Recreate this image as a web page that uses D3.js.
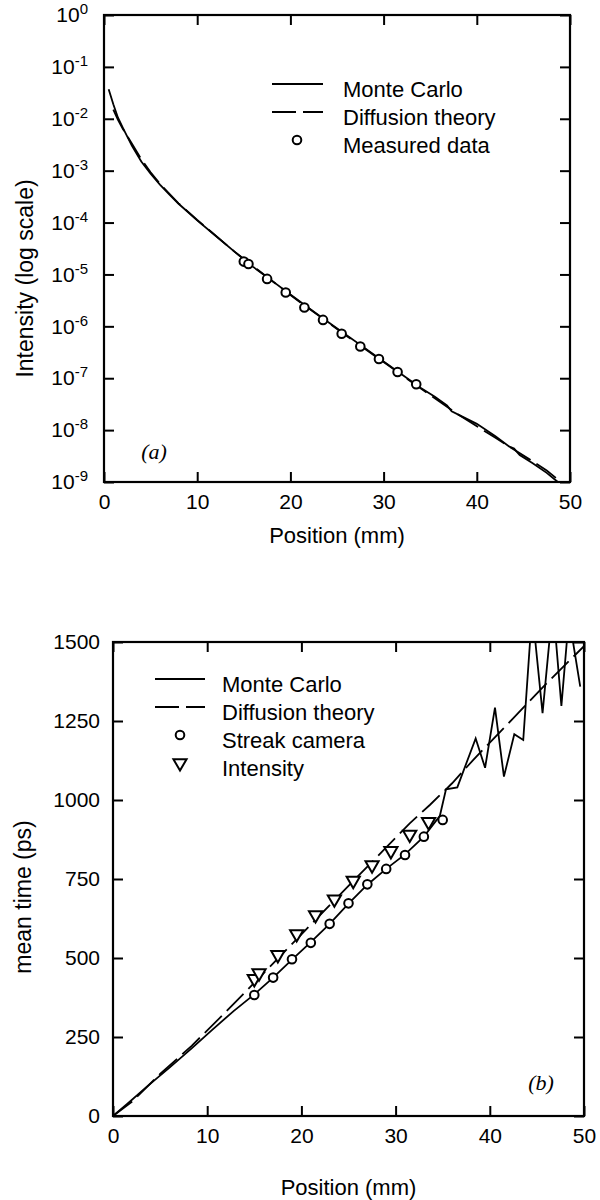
<!DOCTYPE html>
<html lang="en">
<head>
<meta charset="utf-8">
<title>Intensity and mean time vs position</title>
<script src="https://d3js.org/d3.v7.min.js"></script>
<style>
    body { margin: 0; background: #fff; }
    svg { display: block; }
    text { font-family: "Liberation Sans", Arial, Helvetica, sans-serif; fill: #000; }
    .tick line { stroke: #000; stroke-width: 2px; }
    .frame { fill: none; stroke: #000; stroke-width: 2.2px; }
    .curve { fill: none; stroke: #000; stroke-width: 1.8px; }
    .dashed { stroke-dasharray: 24, 7; }
    .mark { fill: #fff; stroke: #000; stroke-width: 2px; }
    .panel-tag { font-family: "Liberation Serif", "Times New Roman", serif; font-style: italic; font-size: 22px; }
</style>
</head>
<body>
<svg id="chart" width="600" height="1200"></svg>
<script>
// ---- panel (a): intensity, log scale ----
const mcPosA = [0.5, 1, 1.5, 2, 3, 4, 5, 6, 7, 8, 9, 10, 12, 14, 16, 18, 20, 22, 24, 26, 28, 30, 32, 34, 35.5, 36.8, 37.3, 38.5, 40, 42, 43.5, 44, 44.6, 46, 47.5, 48.7];
const mcIntensity = [3.7e-2, 1.9e-2, 1.05e-2, 6.8e-3, 3.0e-3, 1.5e-3, 8.7e-4, 5.4e-4, 3.5e-4, 2.3e-4, 1.6e-4, 1.1e-4, 5.5e-5, 2.75e-5, 1.4e-5, 7.6e-6, 4.1e-6, 2.24e-6, 1.23e-6, 6.8e-7, 3.8e-7, 2.1e-7, 1.17e-7, 6.5e-8, 4.4e-8, 3.0e-8, 2.3e-8, 1.8e-8, 1.32e-8, 7.6e-9, 4.8e-9, 4.4e-9, 3.3e-9, 2.3e-9, 1.5e-9, 1.0e-9];
const diffPosA = [1, 1.5, 2, 3, 4, 5, 6, 8, 10, 14, 20, 26, 30, 34, 38, 42, 45.7, 47.5, 48.9];
const diffIntensity = [1.5e-2, 9.5e-3, 6.5e-3, 3.3e-3, 1.66e-3, 9.3e-4, 5.6e-4, 2.35e-4, 1.12e-4, 2.75e-5, 4.0e-6, 6.6e-7, 2.05e-7, 6.3e-8, 2.0e-8, 7.1e-9, 2.7e-9, 1.66e-9, 1.05e-9];
const measPos = [15, 15.5, 17.5, 19.5, 21.5, 23.5, 25.5, 27.5, 29.5, 31.5, 33.5];
const measIntensity = [1.77e-5, 1.59e-5, 8.2e-6, 4.5e-6, 2.3e-6, 1.33e-6, 7.2e-7, 4.1e-7, 2.35e-7, 1.32e-7, 7.65e-8];
const logTicks = [0, -1, -2, -3, -4, -5, -6, -7, -8, -9];
const legendA = ["Monte Carlo", "Diffusion theory", "Measured data"];

// ---- panel (b): mean time ----
const mcPosB = [0, 1.5, 3.6, 6, 8.35, 10.5, 12.8, 15, 17, 19, 21, 23, 25, 27, 29, 31, 33, 34.7, 35.35, 36.55, 38.5, 39.5, 40.55, 41.5, 42.6, 43.55, 44.5, 45.6, 46.7, 47.6, 48.4, 49.6];
const mcTime = [0, 38, 93, 153, 214, 272, 332, 385, 438, 495, 550, 608, 672, 732, 782, 828, 884, 950, 1034, 1040, 1195, 1102, 1292, 1074, 1208, 1190, 1600, 1275, 1620, 1298, 1580, 1359];
const diffPosB = [0, 2, 5, 8.35, 12, 20, 25, 31.5, 33.66, 36, 38.25, 42.3, 46, 50];
const diffTime = [0, 45, 133, 222, 330, 575, 728, 926, 985, 1053, 1127, 1253, 1368, 1487];
const streakPos = [15, 17, 19, 21, 23, 25, 27, 29, 31, 33, 35];
const streakTime = [383, 438, 496, 548, 608, 673, 733, 782, 826, 884, 937];
const intPos = [15, 15.5, 17.5, 19.5, 21.5, 23.5, 25.5, 27.5, 29.5, 31.5, 33.5];
const intTime = [434, 452, 510, 576, 636, 686, 745, 794, 839, 891, 931];
const timeTicks = [0, 250, 500, 750, 1000, 1250, 1500];
const legendB = ["Monte Carlo", "Diffusion theory", "Streak camera", "Intensity"];

const posTicks = [0, 10, 20, 30, 40, 50];
const svg = d3.select("#chart");
const zip = (xs, ys) => xs.map((x, i) => [x, ys[i]]);

function frameAndTicks(g, x, y, yTicks, box) {
    const tick = 10;
    g.append("g").attr("transform", `translate(0,${box.bottom})`)
        .call(d3.axisBottom(x).tickValues(posTicks).tickSize(-tick).tickPadding(12))
        .call(a => a.select(".domain").remove())
        .selectAll("text").attr("font-size", 21);
    g.append("g").attr("transform", `translate(0,${box.top})`)
        .call(d3.axisTop(x).tickValues(posTicks).tickSize(-tick).tickFormat(""))
        .call(a => a.select(".domain").remove());
    g.append("g").attr("transform", `translate(${box.right},0)`)
        .call(d3.axisRight(y).tickValues(yTicks).tickSize(-tick).tickFormat(""))
        .call(a => a.select(".domain").remove());
    g.append("rect").attr("class", "frame")
        .attr("x", box.left).attr("y", box.top)
        .attr("width", box.right - box.left).attr("height", box.bottom - box.top);
    g.selectAll(".tick text").attr("fill", "#000").attr("font-family", null);
}

// ================= panel (a) =================
const boxA = {left: 104, right: 570, top: 15, bottom: 482};
const xA = d3.scaleLinear().domain([0, 50]).range([boxA.left, boxA.right]);
const yA = d3.scaleLog().domain([1e-9, 1]).range([boxA.bottom, boxA.top]);
const gA = svg.append("g");
const decades = logTicks.map(p => Math.pow(10, p));

gA.append("g").attr("transform", `translate(${boxA.left},0)`)
    .call(d3.axisLeft(yA).tickValues(decades).tickSize(-10).tickPadding(16).tickFormat(""))
    .call(a => a.select(".domain").remove())
    .selectAll(".tick text").each(function (d) {
        const t = d3.select(this).attr("font-size", 21).attr("fill", "#000").attr("font-family", null);
        t.append("tspan").text("10");
        t.append("tspan").attr("dy", -8).attr("font-size", 15).text(Math.round(Math.log10(d)));
    });
frameAndTicks(gA, xA, yA, decades, boxA);

const lineA = d3.line().x(d => xA(d[0])).y(d => yA(d[1]));
gA.append("path").attr("class", "curve").attr("d", lineA(zip(mcPosA, mcIntensity)));
gA.append("path").attr("class", "curve dashed").attr("d", lineA(zip(diffPosA, diffIntensity)));
gA.selectAll("circle.meas").data(zip(measPos, measIntensity)).join("circle")
    .attr("class", "mark meas").attr("r", 4.3)
    .attr("cx", d => xA(d[0])).attr("cy", d => yA(d[1]));

gA.append("text").attr("class", "panel-tag").attr("x", 154).attr("y", 459)
    .attr("text-anchor", "middle").text("(a)");
gA.append("text").attr("text-anchor", "middle").attr("font-size", 22)
    .attr("x", (boxA.left + boxA.right) / 2).attr("y", 543).text("Position (mm)");
gA.append("text").attr("text-anchor", "middle").attr("font-size", 23)
    .attr("transform", `translate(33,${(boxA.top + boxA.bottom) / 2 + 30}) rotate(-90)`)
    .text("Intensity (log scale)");

// legend (a)
const legA = gA.append("g").attr("transform", "translate(272,84)");
legA.selectAll("text").data(legendA).join("text")
    .attr("x", 71).attr("y", (d, i) => i * 28 + 13).attr("font-size", 22).text(d => d);
legA.append("line").attr("class", "curve").attr("x1", 0).attr("x2", 51).attr("y1", 0).attr("y2", 0);
legA.append("line").attr("class", "curve dashed").attr("x1", 0).attr("x2", 51).attr("y1", 28).attr("y2", 28);
legA.append("circle").attr("class", "mark").attr("r", 4.3).attr("cx", 25).attr("cy", 56);

// ================= panel (b) =================
const boxB = {left: 113, right: 584, top: 642, bottom: 1116};
const xB = d3.scaleLinear().domain([0, 50]).range([boxB.left, boxB.right]);
const yB = d3.scaleLinear().domain([0, 1500]).range([boxB.bottom, boxB.top]);
const gB = svg.append("g");

gB.append("g").attr("transform", `translate(${boxB.left},0)`)
    .call(d3.axisLeft(yB).tickValues(timeTicks).tickSize(-10).tickPadding(13).tickFormat(d3.format("d")))
    .call(a => a.select(".domain").remove())
    .selectAll("text").attr("font-size", 21);
frameAndTicks(gB, xB, yB, timeTicks, boxB);

svg.append("clipPath").attr("id", "clipB").append("rect")
    .attr("x", boxB.left).attr("y", boxB.top)
    .attr("width", boxB.right - boxB.left).attr("height", boxB.bottom - boxB.top);

const lineB = d3.line().x(d => xB(d[0])).y(d => yB(d[1]));
const plotB = gB.append("g").attr("clip-path", "url(#clipB)");
plotB.append("path").attr("class", "curve").attr("d", lineB(zip(mcPosB, mcTime)));
plotB.append("path").attr("class", "curve dashed").attr("d", lineB(zip(diffPosB, diffTime)));
plotB.selectAll("circle").data(zip(streakPos, streakTime)).join("circle")
    .attr("class", "mark").attr("r", 4.3)
    .attr("cx", d => xB(d[0])).attr("cy", d => yB(d[1]));
const tri = d3.symbol().type(d3.symbolTriangle).size(75);
plotB.selectAll("path.tri").data(zip(intPos, intTime)).join("path")
    .attr("class", "mark tri").attr("d", tri)
    .attr("transform", d => `translate(${xB(d[0])},${yB(d[1])}) rotate(180)`);

gB.append("text").attr("class", "panel-tag").attr("x", 541).attr("y", 1090)
    .attr("text-anchor", "middle").text("(b)");
gB.append("text").attr("text-anchor", "middle").attr("font-size", 22)
    .attr("x", (boxB.left + boxB.right) / 2).attr("y", 1195).text("Position (mm)");
gB.append("text").attr("text-anchor", "middle").attr("font-size", 23)
    .attr("transform", `translate(31,${(boxB.top + boxB.bottom) / 2 + 18}) rotate(-90)`)
    .text("mean time (ps)");

// legend (b)
const legB = gB.append("g").attr("transform", "translate(155,679)");
legB.selectAll("text").data(legendB).join("text")
    .attr("x", 67).attr("y", (d, i) => i * 28 + 13).attr("font-size", 22).text(d => d);
legB.append("line").attr("class", "curve").attr("x1", 0).attr("x2", 50).attr("y1", 0).attr("y2", 0);
legB.append("line").attr("class", "curve dashed").attr("x1", 0).attr("x2", 50).attr("y1", 28).attr("y2", 28);
legB.append("circle").attr("class", "mark").attr("r", 4.3).attr("cx", 25).attr("cy", 56);
legB.append("path").attr("class", "mark").attr("d", tri)
    .attr("transform", "translate(25,84) rotate(180)");
</script>
</body>
</html>
